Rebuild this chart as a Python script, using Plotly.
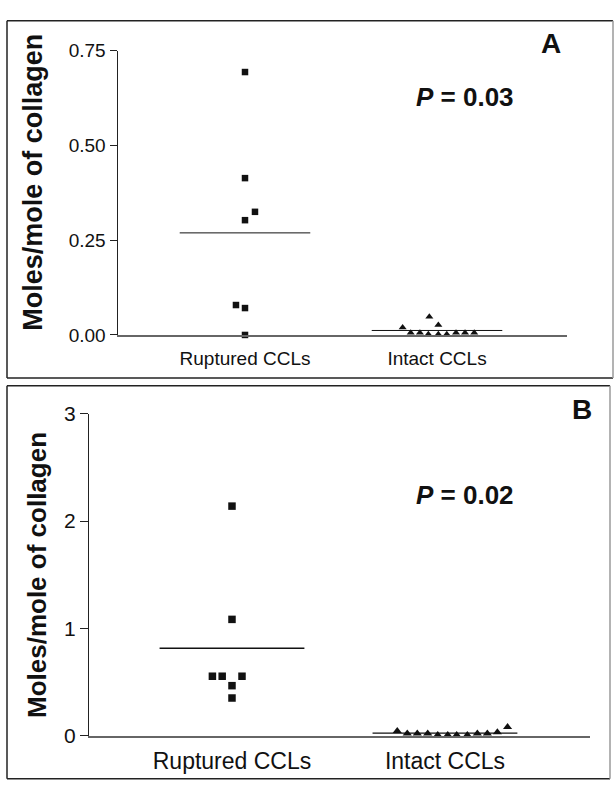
import plotly.graph_objects as go
import numpy as np

# ---------------- data ----------------
categories = ["Ruptured CCLs", "Intact CCLs"]

# Panel A
a_ruptured = [0.694, 0.414, 0.325, 0.303, 0.079, 0.071, 0.0]
a_ruptured_jitter = [0.0, 0.0, 0.052, 0.0, -0.047, 0.0, 0.0]
a_intact = [0.020, 0.006, 0.006, 0.002, 0.048, 0.026, 0.002, 0.002, 0.006, 0.006, 0.006]
a_intact_jitter = [-0.179, -0.137, -0.089, -0.045, -0.040, 0.007, 0.007, 0.051, 0.099, 0.146, 0.194]
a_ticks = [0, 0.25, 0.50, 0.75]
a_tick_labels = ["0.00", "0.25", "0.50", "0.75"]
a_p = "0.03"

# Panel B
b_ruptured = [2.14, 1.084, 0.554, 0.554, 0.554, 0.466, 0.351]
b_ruptured_jitter = [0.0, 0.0, -0.092, -0.046, 0.047, 0.0, 0.0]
b_intact = [0.043, 0.02, 0.02, 0.02, 0.005, 0.005, 0.005, 0.005, 0.02, 0.02, 0.032, 0.08]
b_intact_jitter = [-0.224, -0.177, -0.130, -0.081, -0.034, 0.013, 0.055, 0.105, 0.152, 0.199, 0.246, 0.294]
b_ticks = [0, 1, 2, 3]
b_tick_labels = ["0", "1", "2", "3"]
b_p = "0.02"

y_title = "Moles/mole of collagen"

# ---------------- layout helpers ----------------
W, H = 614, 785
FONT = "Liberation Sans, Arial, Helvetica, sans-serif"


def px_x(p):
    return p / W


def px_y(p):
    return 1 - p / H


fig = go.Figure()

HALF = 0.34


def add_panel(xa, ya, rup, rup_j, inta, inta_j, sq, tri, mean_w):
    cat_pos = [1, 2]
    fig.add_trace(go.Scatter(
        x=[cat_pos[0] + j for j in rup_j], y=rup, mode="markers",
        marker=dict(symbol="square", size=sq, color="#111111"),
        xaxis=xa, yaxis=ya, cliponaxis=False, hoverinfo="y"))
    fig.add_trace(go.Scatter(
        x=[cat_pos[1] + j for j in inta_j], y=inta, mode="markers",
        marker=dict(symbol="triangle-up", size=tri, color="#111111"),
        xaxis=xa, yaxis=ya, cliponaxis=False, hoverinfo="y"))
    for c, vals in zip(cat_pos, [rup, inta]):
        m = float(np.mean(vals))
        fig.add_trace(go.Scatter(
            x=[c - HALF, c + HALF], y=[m, m], mode="lines",
            line=dict(color="#111111", width=mean_w),
            xaxis=xa, yaxis=ya, cliponaxis=False, hoverinfo="skip"))


add_panel("x", "y", a_ruptured, a_ruptured_jitter, a_intact, a_intact_jitter, 6.5, 7, 1)
add_panel("x2", "y2", b_ruptured, b_ruptured_jitter, b_intact, b_intact_jitter, 7.5, 8, 1.3)

xa_common = dict(showgrid=False, zeroline=False, showline=True, linecolor="#666666",
                 linewidth=2, tickmode="array", tickvals=[1, 2], ticktext=categories,
                 ticks="outside", tickcolor="rgba(0,0,0,0)", fixedrange=True)
ya_common = dict(showgrid=False, zeroline=False, showline=True, linecolor="#222222",
                 ticks="outside", tickcolor="#222222", tickmode="array", fixedrange=True)

fig.update_layout(
    width=W, height=H,
    margin=dict(l=0, r=0, t=0, b=0),
    paper_bgcolor="white", plot_bgcolor="white",
    showlegend=False,
    font=dict(family=FONT, color="#111111"),
    xaxis=dict(**xa_common, domain=[px_x(117.5), px_x(567)], range=[0.336, 2.677],
               ticklen=5, tickfont=dict(size=19, family=FONT), anchor="y"),
    yaxis=dict(**ya_common, domain=[px_y(332.7), px_y(40)], range=[0, 0.75],
               tickvals=a_ticks, ticktext=a_tick_labels, ticklen=7, tickwidth=1,
               linewidth=1, tickfont=dict(size=19, family=FONT), anchor="x"),
    xaxis2=dict(**xa_common, domain=[px_x(89), px_x(590)], range=[0.3286, 2.681],
                ticklen=4, tickfont=dict(size=23, family=FONT), anchor="y2"),
    yaxis2=dict(**ya_common, domain=[px_y(745.5), px_y(414)], range=[0, 3],
                tickvals=b_ticks, ticktext=b_tick_labels, ticklen=8, tickwidth=1.3,
                linewidth=1.3, tickfont=dict(size=21, family=FONT), anchor="x2"),
)

# panel frames
frame_dark = "#222222"
frame_light = "#9a9a9a"
shapes = []
for (l, t, r, b) in [(7, 9, 613, 377), (7, 385, 610, 790)]:
    shapes.append(dict(type="line", xref="paper", yref="paper", x0=px_x(l), x1=px_x(r),
                       y0=px_y(t), y1=px_y(t), line=dict(color=frame_dark, width=1.5)))
    shapes.append(dict(type="line", xref="paper", yref="paper", x0=px_x(l), x1=px_x(r),
                       y0=px_y(b), y1=px_y(b), line=dict(color=frame_dark, width=1.5)))
    shapes.append(dict(type="line", xref="paper", yref="paper", x0=px_x(l), x1=px_x(l),
                       y0=px_y(t), y1=px_y(b), line=dict(color=frame_dark, width=1.5)))
    shapes.append(dict(type="line", xref="paper", yref="paper", x0=px_x(r), x1=px_x(r),
                       y0=px_y(t), y1=px_y(b), line=dict(color=frame_light, width=1.5)))
fig.update_layout(shapes=shapes)

ann = []
# y titles
ann.append(dict(text=f"<b>{y_title}</b>", x=px_x(33), y=px_y(176), xref="paper", yref="paper",
                textangle=-90, showarrow=False, font=dict(size=27, family=FONT, color="#111111"),
                xanchor="center", yanchor="middle"))
ann.append(dict(text=f"<b>{y_title}</b>", x=px_x(37), y=px_y(580), xref="paper", yref="paper",
                textangle=-90, showarrow=False, font=dict(size=26, family=FONT, color="#111111"),
                xanchor="center", yanchor="middle"))
# P values
ann.append(dict(text=f"<b><i>P</i> = {a_p}</b>", x=px_x(465), y=px_y(88), xref="paper", yref="paper",
                showarrow=False, font=dict(size=26, family=FONT, color="#111111"),
                xanchor="center", yanchor="middle"))
ann.append(dict(text=f"<b><i>P</i> = {b_p}</b>", x=px_x(465), y=px_y(498), xref="paper", yref="paper",
                showarrow=False, font=dict(size=26, family=FONT, color="#111111"),
                xanchor="center", yanchor="middle"))
# panel letters
ann.append(dict(text="<b>A</b>", x=px_x(551), y=px_y(32), xref="paper", yref="paper",
                showarrow=False, font=dict(size=28, family=FONT, color="#111111"),
                xanchor="center", yanchor="middle"))
ann.append(dict(text="<b>B</b>", x=px_x(582), y=px_y(410), xref="paper", yref="paper",
                showarrow=False, font=dict(size=28, family=FONT, color="#111111"),
                xanchor="center", yanchor="middle"))
fig.update_layout(annotations=ann)

fig.write_html("out.html", config={"displayModeBar": False},
               post_script="document.body.style.margin='0';")
